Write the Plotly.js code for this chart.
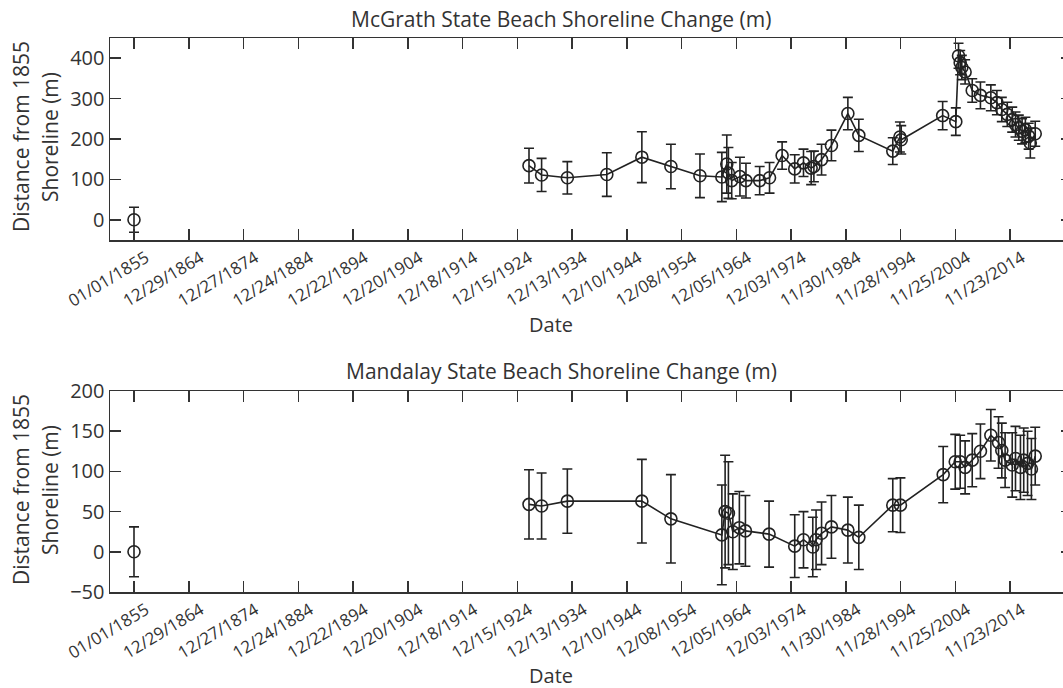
<!DOCTYPE html>
<html><head><meta charset="utf-8">
<script src="https://cdn.plot.ly/plotly-3.0.1.min.js"></script>
<style>html,body{margin:0;padding:0;overflow:hidden;background:#fff}</style>
</head><body><div id="chart"></div>
<script>
// ---- data ----
const tickLabels = ["01/01/1855","12/29/1864","12/27/1874","12/24/1884","12/22/1894","12/20/1904","12/18/1914","12/15/1924","12/13/1934","12/10/1944","12/08/1954","12/05/1964","12/03/1974","11/30/1984","11/28/1994","11/25/2004","11/23/2014"];

// 1855 reference shoreline (plotted unconnected)
const baselineDate = ["1855-01-01"];
const mcgrathBaselineValue = [0];
const mcgrathBaselineErr = [31];
const mandalayBaselineValue = [0];
const mandalayBaselineErr = [31];

const mcgrathDates = ["1927-02-06","1929-05-26","1934-02-06","1941-04-20","1947-09-13","1953-01-01","1958-04-20","1962-04-20","1963-03-15","1963-07-01","1964-02-06","1965-08-08","1966-09-13","1969-03-15","1971-01-01","1973-04-20","1975-08-08","1977-03-15","1978-08-08","1979-02-06","1980-07-01","1982-04-20","1985-04-20","1987-04-20","1993-07-01","1994-10-20","1995-01-15","2002-08-08","2005-01-01","2005-07-01","2005-10-20","2006-02-06","2006-09-13","2008-01-01","2009-07-01","2011-05-26","2012-07-01","2013-05-26","2014-05-26","2015-04-20","2015-11-24","2016-07-01","2017-02-06","2017-09-13","2018-04-20","2018-08-08","2019-07-01"];
const mcgrathValues = [134,111,104,112,155,132,109,106,138,116,97,107,97,97,104,159,126,141,128,132,149,184,263,209,170,205,198,258,243,406,389,377,366,320,308,302,290,273,261,248,236,228,219,223,207,190,213];
const mcgrathErr = [43,41,40,54,63,55,54,61,72,63,45,48,43,35,38,34,35,34,41,38,38,38,40,40,33,37,35,35,34,31,30,30,30,29,33,32,30,30,30,31,31,31,31,31,32,37,31];

const mandalayDates = ["1927-02-06","1929-05-26","1934-02-06","1947-09-13","1953-01-01","1962-04-20","1962-11-24","1963-07-01","1964-04-20","1965-07-01","1966-08-08","1970-12-01","1975-08-08","1977-03-15","1978-11-24","1979-07-01","1980-07-01","1982-04-20","1985-04-20","1987-04-20","1993-07-01","1994-11-24","2002-09-13","2004-11-24","2005-10-20","2006-09-13","2008-01-01","2009-07-01","2011-05-26","2012-10-20","2013-05-26","2014-01-01","2015-04-20","2015-11-24","2016-10-20","2017-05-26","2018-02-06","2018-10-20","2019-07-01"];
const mandalayValues = [59,57,63,63,41,21,50,48,25,30,26,22,7,15,6,15,23,31,27,18,58,58,96,112,112,105,114,125,145,136,126,114,108,116,105,114,110,103,119];
const mandalayErr = [43,41,40,52,55,62,70,64,47,45,44,41,39,35,37,37,39,39,41,40,33,34,35,34,33,33,33,34,32,32,34,34,40,40,40,40,40,38,36];

const titles = ["McGrath State Beach Shoreline Change (m)","Mandalay State Beach Shoreline Change (m)"];
const xLabel = "Date";
const yLabelLines = ["Distance from 1855","Shoreline (m)"];

// ---- build ----
const tickVals = tickLabels.map(s => { const [m,d,y] = s.split('/'); return `${y}-${m}-${d}`; });
const ink = '#222';
const fam = '"Open Sans", "Noto Sans", sans-serif';
const txt = '#333';

function series(x, y, e, xa, ya, mode) {
  return {
    x: x, y: y, xaxis: xa, yaxis: ya, type: 'scatter', mode: mode,
    line: {color: ink, width: 1.6},
    marker: {symbol: 'circle-open', size: 12, color: ink, line: {width: 1.6, color: ink}},
    error_y: {type: 'data', array: e, visible: true, color: ink, thickness: 1.6, width: 5},
    showlegend: false, hoverinfo: 'x+y'
  };
}

const xRange = ['1850-08-15', '2026-03-18'];
function xAxis(anchor) {
  return {
    type: 'date', range: xRange, anchor: anchor,
    tickmode: 'array', tickvals: tickVals, ticktext: tickLabels, tickangle: -31,
    ticks: 'inside', ticklen: 11, tickwidth: 1.5, tickcolor: '#333',
    showline: true, linecolor: '#333', linewidth: 1.5, mirror: 'ticks',
    showgrid: false, zeroline: false, ticklabelshift: 12,
    tickfont: {family: fam, size: 17, color: txt}
  };
}
function yAxis(anchor, domain, range, dtick) {
  return {
    domain: domain, range: range, anchor: anchor, tick0: 0, dtick: dtick,
    ticks: 'inside', ticklen: 11, tickwidth: 1.5, tickcolor: '#333',
    showline: true, linecolor: '#333', linewidth: 1.5, mirror: 'ticks',
    showgrid: false, zeroline: false,
    tickfont: {family: fam, size: 20, color: txt}
  };
}

const PL = 110, PT = 38, PB = 96, H = 688, W = 1073;
const plotH = H - PT - PB, plotW = W - PL - 1;
const px = x => (x - PL) / plotW;
const py = y => (H - PB - y) / plotH;

const ann = [];
function addText(text, x, y, size, angle) {
  ann.push({text: text, xref: 'paper', yref: 'paper', x: px(x), y: py(y),
    xanchor: 'center', yanchor: 'middle', showarrow: false, textangle: angle || 0,
    font: {family: fam, size: size, color: txt}});
}
addText(titles[0], 561, 19, 21);
addText(titles[1], 561, 371, 21);
addText(xLabel, 551, 324, 20);
addText(xLabel, 551, 675, 20);
addText(yLabelLines[0], 21, 137, 21, -90);
addText(yLabelLines[1], 50, 137, 21, -90);
addText(yLabelLines[0], 21, 490, 21, -90);
addText(yLabelLines[1], 50, 490, 21, -90);

const layout = {
  width: W, height: H,
  margin: {l: PL, r: 1, t: PT, b: PB},
  paper_bgcolor: '#fff', plot_bgcolor: '#fff',
  font: {family: fam, color: txt},
  xaxis: xAxis('y'),
  yaxis: yAxis('x', [py(240), 1], [-50, 450], 100),
  xaxis2: xAxis('y2'),
  yaxis2: yAxis('x2', [0, py(391)], [-50, 200], 50),
  annotations: ann
};

Plotly.newPlot('chart', [
  series(baselineDate, mcgrathBaselineValue, mcgrathBaselineErr, 'x', 'y', 'markers'),
  series(mcgrathDates, mcgrathValues, mcgrathErr, 'x', 'y', 'lines+markers'),
  series(baselineDate, mandalayBaselineValue, mandalayBaselineErr, 'x2', 'y2', 'markers'),
  series(mandalayDates, mandalayValues, mandalayErr, 'x2', 'y2', 'lines+markers')
], layout, {displayModeBar: false, staticPlot: true});
</script></body></html>
